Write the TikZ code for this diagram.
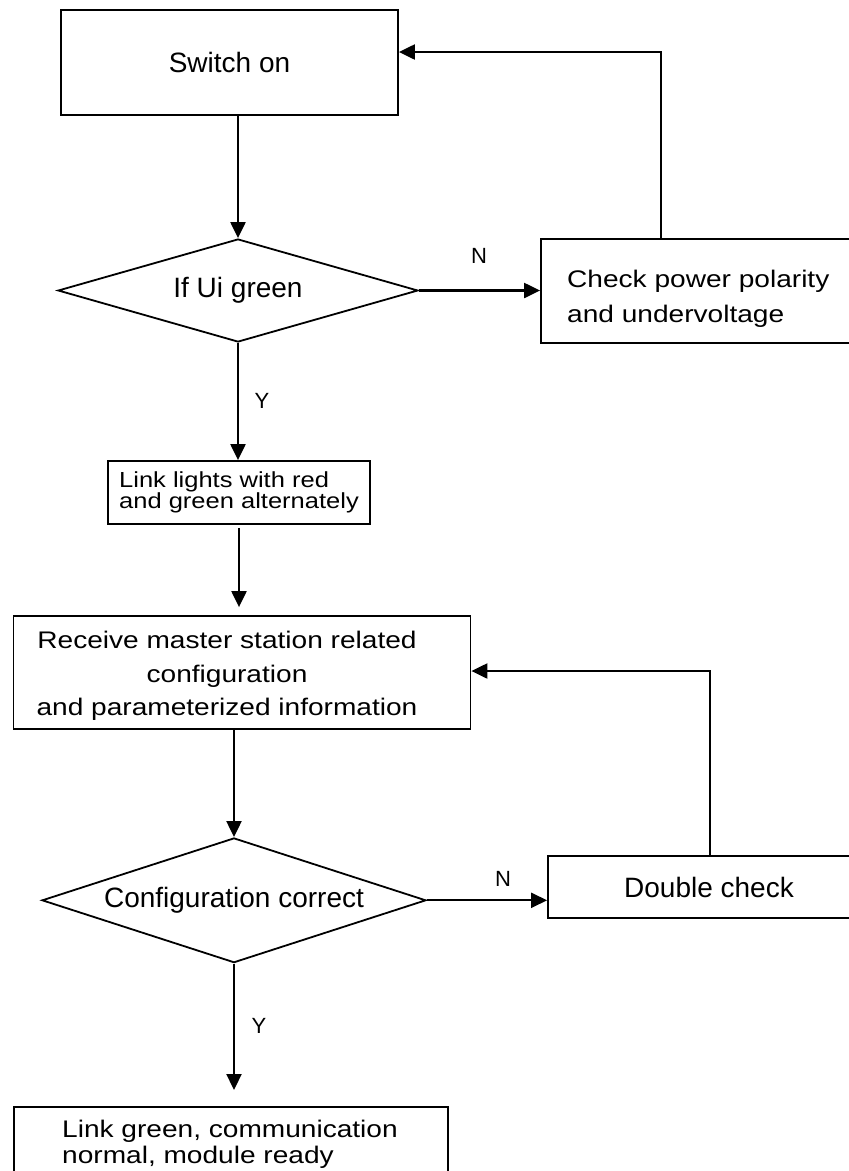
\documentclass[tikz,border=0pt]{standalone}
\usepackage{fontspec}
\setmainfont{Liberation Sans}
\newfontfamily\wfont[FakeStretch=1.17]{Liberation Sans}
\usetikzlibrary{arrows.meta,shapes.geometric,calc}
\newcommand\tightlines{\lineskiplimit=-100pt\relax\lineskip=0pt\relax}
\begin{document}
\begin{tikzpicture}[x=1pt,y=-1pt,
  box/.style={draw,line width=1.8pt,rectangle,inner sep=0pt,font=\fontsize{28}{32}\selectfont},
  dia/.style={draw,line width=1.8pt,diamond,inner sep=0pt,aspect=3,font=\fontsize{28}{32}\selectfont},
  txt/.style={inner sep=0pt},
  lbl/.style={inner sep=0pt,anchor=base,font=\fontsize{22}{26}\selectfont},
  conn/.style={line width=2.2pt,-{Triangle[length=16pt,width=15pt]}}]
\useasboundingbox (0,0) rectangle (849,1171);
% boxes and decisions
\node[box,minimum width=337pt,minimum height=105pt] (sw) at (229.5,62.5) {Switch on};
\node[dia,minimum width=360pt,minimum height=103pt] (d1) at (238,290.5) {If Ui green};
\node[box,minimum width=316pt,minimum height=104pt] (ck) at (699,291) {};
\node[txt,anchor=north west,align=left,font=\wfont\fontsize{24}{35}\selectfont\tightlines] (ckt) at (567,269.5) {Check power polarity\\and undervoltage};
\node[box,minimum width=262pt,minimum height=63pt,align=left,font=\wfont\fontsize{21.8}{21}\selectfont\tightlines] (ll) at (239,492.5) {Link lights with red\\and green alternately};
\node[box,minimum width=457pt,minimum height=113pt] (rc) at (242,672.5) {};
\node[txt,anchor=north,align=center,font=\wfont\fontsize{24}{33.7}\selectfont\tightlines] (rct) at (227,630.7) {Receive master station related\\configuration\\and parameterized information};
\node[dia,minimum width=384pt,minimum height=124.7pt] (d2) at (234,900.3) {Configuration correct};
\node[box,minimum width=322pt,minimum height=62pt] (dc) at (709,887) {Double check};
\node[box,anchor=north west,minimum width=434pt,minimum height=100pt] (fin) at (13,1106) {};
\node[txt,anchor=north west,align=left,font=\wfont\fontsize{24}{26}\selectfont\tightlines] (fint) at (62,1119.7) {Link green, communication\\normal, module ready};
% labels
\node[lbl] (n1) at (479,263) {N};
\node[lbl] (y1) at (262,408) {Y};
\node[lbl] (n2) at (503,886.7) {N};
\node[lbl] (y2) at (259,1033) {Y};
% connectors
\draw[conn] (d1.north |- sw.south) -- (d1.north);
\draw[conn] (d1.east) -- (ck.west |- d1.east);
\draw[conn] (d1.south) -- (d1.south |- ll.north);
\draw[conn,shorten <=3pt,shorten >=8pt] (ll.south) -- (ll.south |- rc.north);
\draw[conn] (d2.north |- rc.south) -- (d2.north);
\draw[conn] (d2.east) -- (dc.west |- d2.east);
\draw[conn,shorten >=16pt] (d2.south) -- (d2.south |- fin.north);
\coordinate (fb1) at (661,52);
\draw[conn] (fb1 |- ck.north) -- (fb1) -- (sw.east |- fb1);
\coordinate (fb2) at (710,671);
\draw[conn] (fb2 |- dc.north) -- (fb2) -- (rc.east |- fb2);
\end{tikzpicture}
\end{document}
